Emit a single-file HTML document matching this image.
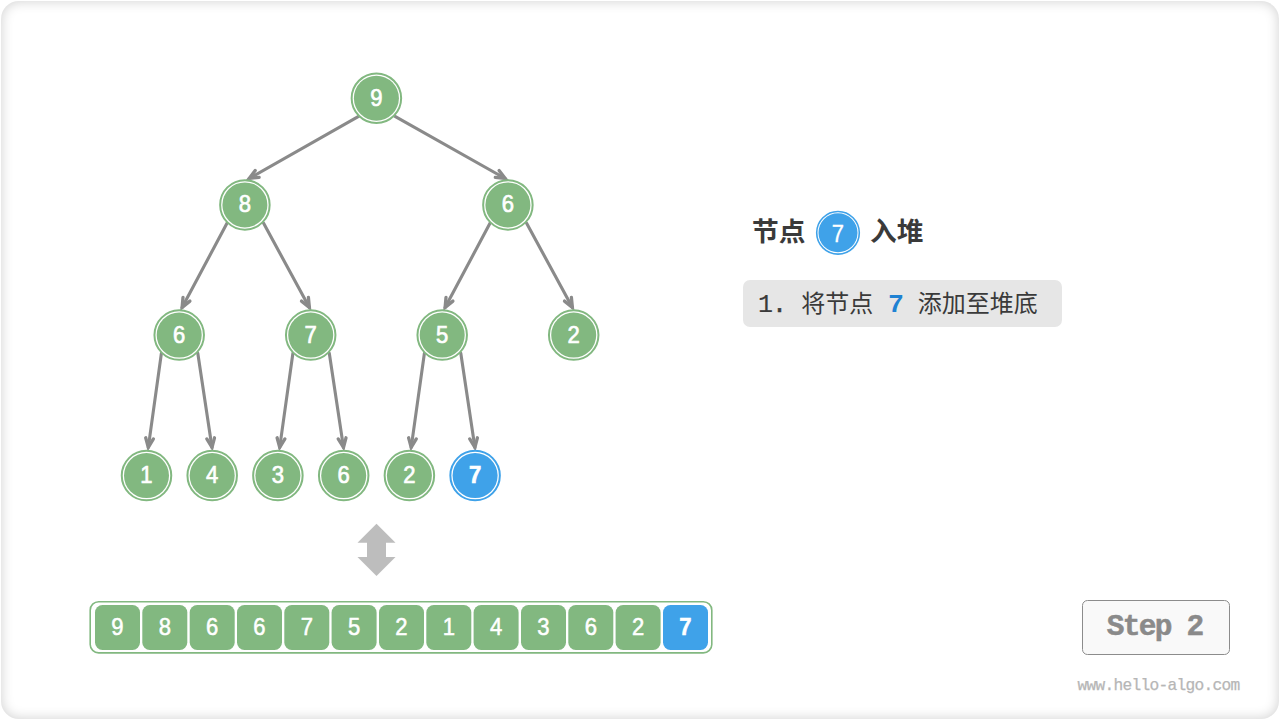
<!DOCTYPE html>
<html lang="zh-CN"><head><meta charset="utf-8"><title>堆 - 元素入堆 Step 2</title>
<style>
html,body{margin:0;padding:0;background:#fff;width:1280px;height:720px;overflow:hidden}
.card{position:absolute;left:1px;top:1px;width:1278px;height:718px;border-radius:18px;background:#fff;box-shadow:inset 0 0 12px 1px rgba(0,0,0,.17)}
svg{position:absolute;left:0;top:0}
text{font-family:"Liberation Sans","Noto Sans CJK SC",sans-serif}
text.m{font-family:"Liberation Mono","Noto Sans CJK SC",monospace}
</style></head><body>
<div class="card"></div>
<svg width="1280" height="720" viewBox="0 0 1280 720">
<g fill="none" stroke="#8a8a8a" stroke-width="3.1" stroke-linecap="round" stroke-linejoin="miter" stroke-miterlimit="10" transform="translate(0.4,0)">
<path d="M358.2 116.4L248.8 178.5" /><path d="M258.7 177.3L248.8 178.5L254.8 170.5" stroke-width="3.3"/>
<path d="M394.6 116.4L504.8 178.5" /><path d="M498.7 170.6L504.8 178.5L494.9 177.4" stroke-width="3.3"/>
<path d="M226.7 223.1L181.7 307.4" /><path d="M189.5 301.1L181.7 307.4L182.6 297.4" stroke-width="3.3"/>
<path d="M263.1 223.1L309.0 307.4" /><path d="M308.0 297.4L309.0 307.4L301.1 301.1" stroke-width="3.3"/>
<path d="M489.7 223.1L444.7 307.4" /><path d="M452.5 301.1L444.7 307.4L445.6 297.4" stroke-width="3.3"/>
<path d="M526.1 223.1L572.0 307.4" /><path d="M571.0 297.4L572.0 307.4L564.1 301.1" stroke-width="3.3"/>
<path d="M161.0 353.3L147.9 447.4" /><path d="M153.0 438.9L147.9 447.4L145.3 437.8" stroke-width="3.3"/>
<path d="M197.4 353.3L211.6 447.4" /><path d="M214.1 437.8L211.6 447.4L206.4 438.9" stroke-width="3.3"/>
<path d="M292.5 353.3L279.3 447.4" /><path d="M284.5 438.9L279.3 447.4L276.7 437.8" stroke-width="3.3"/>
<path d="M328.9 353.3L343.1 447.4" /><path d="M345.6 437.8L343.1 447.4L337.8 438.9" stroke-width="3.3"/>
<path d="M424.0 353.3L410.8 447.4" /><path d="M415.9 438.9L410.8 447.4L408.2 437.8" stroke-width="3.3"/>
<path d="M460.4 353.3L474.5 447.4" /><path d="M477.0 437.8L474.5 447.4L469.3 438.9" stroke-width="3.3"/>
</g>
<circle cx="376.4" cy="98.2" r="24.75" fill="#fff" stroke="#82b880" stroke-width="2.0"/><circle cx="376.4" cy="98.2" r="22.50" fill="#82b880"/><text transform="translate(376.4,105.9) scale(0.92,1)" font-size="24" font-weight="400" text-anchor="middle" fill="#fff" stroke="#fff" stroke-width="0.7">9</text>
<circle cx="244.9" cy="204.9" r="24.75" fill="#fff" stroke="#82b880" stroke-width="2.0"/><circle cx="244.9" cy="204.9" r="22.50" fill="#82b880"/><text transform="translate(244.9,211.6) scale(0.92,1)" font-size="24" font-weight="400" text-anchor="middle" fill="#fff" stroke="#fff" stroke-width="0.7">8</text>
<circle cx="507.9" cy="204.9" r="24.75" fill="#fff" stroke="#82b880" stroke-width="2.0"/><circle cx="507.9" cy="204.9" r="22.50" fill="#82b880"/><text transform="translate(507.9,211.6) scale(0.92,1)" font-size="24" font-weight="400" text-anchor="middle" fill="#fff" stroke="#fff" stroke-width="0.7">6</text>
<circle cx="179.2" cy="335.1" r="24.75" fill="#fff" stroke="#82b880" stroke-width="2.0"/><circle cx="179.2" cy="335.1" r="22.50" fill="#82b880"/><text transform="translate(179.2,342.8) scale(0.92,1)" font-size="24" font-weight="400" text-anchor="middle" fill="#fff" stroke="#fff" stroke-width="0.7">6</text>
<circle cx="310.7" cy="335.1" r="24.75" fill="#fff" stroke="#82b880" stroke-width="2.0"/><circle cx="310.7" cy="335.1" r="22.50" fill="#82b880"/><text transform="translate(310.7,342.8) scale(0.92,1)" font-size="24" font-weight="400" text-anchor="middle" fill="#fff" stroke="#fff" stroke-width="0.7">7</text>
<circle cx="442.2" cy="335.1" r="24.75" fill="#fff" stroke="#82b880" stroke-width="2.0"/><circle cx="442.2" cy="335.1" r="22.50" fill="#82b880"/><text transform="translate(442.2,342.8) scale(0.92,1)" font-size="24" font-weight="400" text-anchor="middle" fill="#fff" stroke="#fff" stroke-width="0.7">5</text>
<circle cx="573.7" cy="335.1" r="24.75" fill="#fff" stroke="#82b880" stroke-width="2.0"/><circle cx="573.7" cy="335.1" r="22.50" fill="#82b880"/><text transform="translate(573.7,342.8) scale(0.92,1)" font-size="24" font-weight="400" text-anchor="middle" fill="#fff" stroke="#fff" stroke-width="0.7">2</text>
<circle cx="146.5" cy="475.6" r="24.75" fill="#fff" stroke="#82b880" stroke-width="2.0"/><circle cx="146.5" cy="475.6" r="22.50" fill="#82b880"/><text transform="translate(146.5,483.3) scale(0.92,1)" font-size="24" font-weight="400" text-anchor="middle" fill="#fff" stroke="#fff" stroke-width="0.7">1</text>
<circle cx="212.2" cy="475.6" r="24.75" fill="#fff" stroke="#82b880" stroke-width="2.0"/><circle cx="212.2" cy="475.6" r="22.50" fill="#82b880"/><text transform="translate(212.2,483.3) scale(0.92,1)" font-size="24" font-weight="400" text-anchor="middle" fill="#fff" stroke="#fff" stroke-width="0.7">4</text>
<circle cx="277.9" cy="475.6" r="24.75" fill="#fff" stroke="#82b880" stroke-width="2.0"/><circle cx="277.9" cy="475.6" r="22.50" fill="#82b880"/><text transform="translate(277.9,483.3) scale(0.92,1)" font-size="24" font-weight="400" text-anchor="middle" fill="#fff" stroke="#fff" stroke-width="0.7">3</text>
<circle cx="343.7" cy="475.6" r="24.75" fill="#fff" stroke="#82b880" stroke-width="2.0"/><circle cx="343.7" cy="475.6" r="22.50" fill="#82b880"/><text transform="translate(343.7,483.3) scale(0.92,1)" font-size="24" font-weight="400" text-anchor="middle" fill="#fff" stroke="#fff" stroke-width="0.7">6</text>
<circle cx="409.4" cy="475.6" r="24.75" fill="#fff" stroke="#82b880" stroke-width="2.0"/><circle cx="409.4" cy="475.6" r="22.50" fill="#82b880"/><text transform="translate(409.4,483.3) scale(0.92,1)" font-size="24" font-weight="400" text-anchor="middle" fill="#fff" stroke="#fff" stroke-width="0.7">2</text>
<circle cx="475.1" cy="475.6" r="24.75" fill="#fff" stroke="#3fa2e9" stroke-width="2.0"/><circle cx="475.1" cy="475.6" r="22.50" fill="#3fa2e9"/><text transform="translate(475.1,483.3) scale(0.92,1)" font-size="24" font-weight="700" text-anchor="middle" fill="#fff" stroke="#fff" stroke-width="0.7">7</text>
<path fill="#bdbdbd" d="M376.5 523.8L395.5 542.8H386.0V557H395.5L376.5 576L357.5 557H367.0V542.8H357.5Z"/>
<rect x="90.2" y="601.7" width="621.6" height="51.2" rx="8.5" fill="#fff" stroke="#82b880" stroke-width="1.6"/>
<rect x="95.0" y="605" width="45" height="45" rx="7.5" fill="#82b880"/>
<text transform="translate(117.5,635.2) scale(0.92,1)" font-size="24" font-weight="400" text-anchor="middle" fill="#fff" stroke="#fff" stroke-width="0.55">9</text>
<rect x="142.3" y="605" width="45" height="45" rx="7.5" fill="#82b880"/>
<text transform="translate(164.8,635.2) scale(0.92,1)" font-size="24" font-weight="400" text-anchor="middle" fill="#fff" stroke="#fff" stroke-width="0.55">8</text>
<rect x="189.7" y="605" width="45" height="45" rx="7.5" fill="#82b880"/>
<text transform="translate(212.2,635.2) scale(0.92,1)" font-size="24" font-weight="400" text-anchor="middle" fill="#fff" stroke="#fff" stroke-width="0.55">6</text>
<rect x="237.0" y="605" width="45" height="45" rx="7.5" fill="#82b880"/>
<text transform="translate(259.5,635.2) scale(0.92,1)" font-size="24" font-weight="400" text-anchor="middle" fill="#fff" stroke="#fff" stroke-width="0.55">6</text>
<rect x="284.3" y="605" width="45" height="45" rx="7.5" fill="#82b880"/>
<text transform="translate(306.8,635.2) scale(0.92,1)" font-size="24" font-weight="400" text-anchor="middle" fill="#fff" stroke="#fff" stroke-width="0.55">7</text>
<rect x="331.6" y="605" width="45" height="45" rx="7.5" fill="#82b880"/>
<text transform="translate(354.1,635.2) scale(0.92,1)" font-size="24" font-weight="400" text-anchor="middle" fill="#fff" stroke="#fff" stroke-width="0.55">5</text>
<rect x="379.0" y="605" width="45" height="45" rx="7.5" fill="#82b880"/>
<text transform="translate(401.5,635.2) scale(0.92,1)" font-size="24" font-weight="400" text-anchor="middle" fill="#fff" stroke="#fff" stroke-width="0.55">2</text>
<rect x="426.3" y="605" width="45" height="45" rx="7.5" fill="#82b880"/>
<text transform="translate(448.8,635.2) scale(0.92,1)" font-size="24" font-weight="400" text-anchor="middle" fill="#fff" stroke="#fff" stroke-width="0.55">1</text>
<rect x="473.6" y="605" width="45" height="45" rx="7.5" fill="#82b880"/>
<text transform="translate(496.1,635.2) scale(0.92,1)" font-size="24" font-weight="400" text-anchor="middle" fill="#fff" stroke="#fff" stroke-width="0.55">4</text>
<rect x="521.0" y="605" width="45" height="45" rx="7.5" fill="#82b880"/>
<text transform="translate(543.5,635.2) scale(0.92,1)" font-size="24" font-weight="400" text-anchor="middle" fill="#fff" stroke="#fff" stroke-width="0.55">3</text>
<rect x="568.3" y="605" width="45" height="45" rx="7.5" fill="#82b880"/>
<text transform="translate(590.8,635.2) scale(0.92,1)" font-size="24" font-weight="400" text-anchor="middle" fill="#fff" stroke="#fff" stroke-width="0.55">6</text>
<rect x="615.6" y="605" width="45" height="45" rx="7.5" fill="#82b880"/>
<text transform="translate(638.1,635.2) scale(0.92,1)" font-size="24" font-weight="400" text-anchor="middle" fill="#fff" stroke="#fff" stroke-width="0.55">2</text>
<rect x="663.0" y="605" width="45" height="45" rx="7.5" fill="#3fa2e9"/>
<text transform="translate(685.5,635.2) scale(0.92,1)" font-size="24" font-weight="700" text-anchor="middle" fill="#fff" stroke="#fff" stroke-width="0.55">7</text>
<text x="752" y="240.9" font-size="26.7" font-weight="700" fill="#3a3a3a">节点</text>
<circle cx="838.0" cy="232.8" r="21.30" fill="#fff" stroke="#3fa2e9" stroke-width="1.6"/><circle cx="838.0" cy="232.8" r="19.50" fill="#3fa2e9"/><text transform="translate(838.0,241.5) scale(0.92,1)" font-size="24" font-weight="400" text-anchor="middle" fill="#fff" stroke="#fff" stroke-width="0.3">7</text>
<text x="870" y="240.9" font-size="26.7" font-weight="700" fill="#3a3a3a">入堆</text>
<rect x="743" y="280" width="319" height="47" rx="7" fill="#e6e6e6"/>
<text class="m" x="765.4" y="311.5" font-size="25" text-anchor="middle" fill="#3a3a3a" stroke="#3a3a3a" stroke-width="0.15">1</text>
<text class="m" x="779.5" y="311.5" font-size="25" text-anchor="middle" fill="#3a3a3a" stroke="#3a3a3a" stroke-width="0.45">.</text>
<text x="801.3" y="311.7" font-size="24" fill="#3a3a3a">将节点</text>
<text class="m" x="888" y="311.5" font-size="26.5" font-weight="700" fill="#1f82d3">7</text>
<text x="917.8" y="311.7" font-size="24" fill="#3a3a3a">添加至堆底</text>
<rect x="1082.5" y="600.5" width="147" height="54" rx="5" fill="#f9f9f9" stroke="#8c8c8c" stroke-width="1"/>
<text class="m" x="1154.7" y="635.4" font-size="29.5" font-weight="700" text-anchor="middle" fill="#8a8a8a" stroke="#8a8a8a" stroke-width="0.5" letter-spacing="-1.75">Step 2</text>
<text class="m" x="1158.5" y="690" font-size="16.2" text-anchor="middle" fill="#b6b6b6" stroke="#b6b6b6" stroke-width="0.25" letter-spacing="-0.72">www.hello-algo.com</text>
</svg>
</body></html>
